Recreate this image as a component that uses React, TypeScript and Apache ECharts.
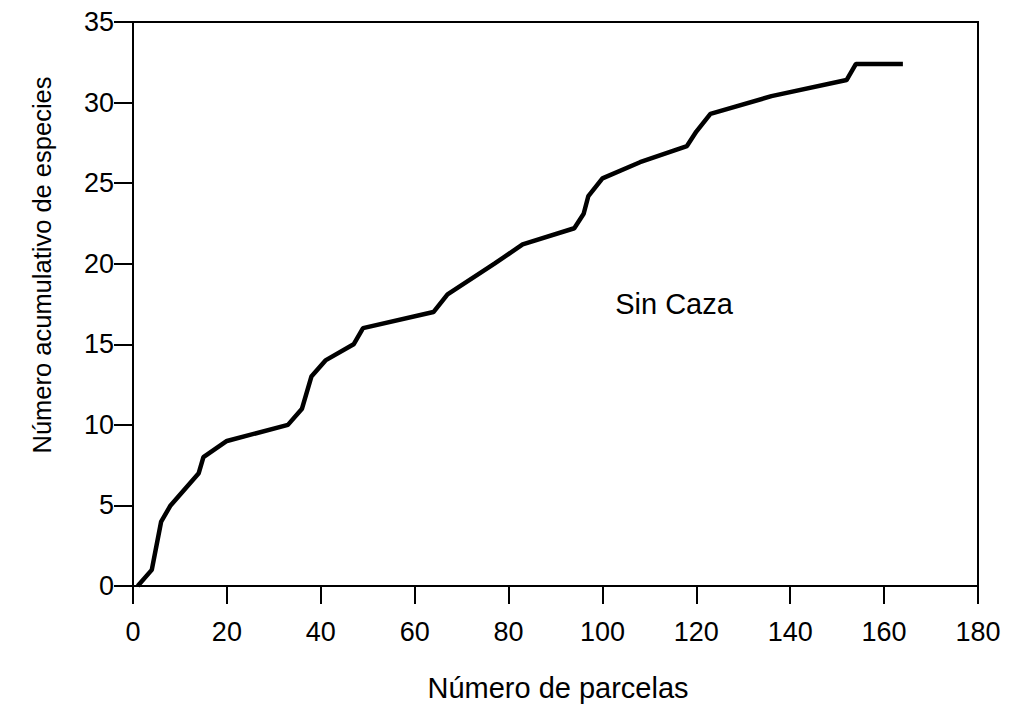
import React, { useEffect, useRef } from "react";
import * as echarts from "echarts";

const parcelas = [1, 4, 6, 8, 14, 15, 20, 33, 36, 38, 41, 47, 49, 64, 67, 77, 83, 94, 96, 97, 100, 108, 118, 120, 123, 136, 152, 154, 164];
const especies = [0, 1, 4, 5, 7, 8, 9, 10, 11, 13, 14, 15, 16, 17, 18.1, 20, 21.2, 22.2, 23.1, 24.2, 25.3, 26.3, 27.3, 28.2, 29.3, 30.4, 31.4, 32.4, 32.4];
const xTitle = "Número de parcelas";
const yTitle = "Número acumulativo de especies";
const annotation = "Sin Caza";

const FONT = "'Liberation Sans', Arial, sans-serif";

export default function App() {
  const ref = useRef<HTMLDivElement>(null);
  useEffect(() => {
    document.body.style.margin = "0";
    const chart = echarts.init(ref.current!, null, { renderer: "svg" });
    const data = parcelas.map((x, i) => [x, especies[i]]);
    chart.setOption({
      animation: false,
      backgroundColor: "#ffffff",
      grid: {
        left: 133,
        right: 33,
        top: 22,
        bottom: 125,
        show: true,
        borderColor: "#000",
        borderWidth: 2,
        backgroundColor: "transparent",
      },
      xAxis: {
        type: "value",
        min: 0,
        max: 180,
        interval: 20,
        axisLine: { show: true, lineStyle: { color: "#000", width: 2 } },
        axisTick: { show: true, inside: false, length: 18, lineStyle: { color: "#000", width: 2 } },
        axisLabel: { color: "#000", fontSize: 27, fontFamily: FONT, margin: 32 },
        splitLine: { show: false },
      },
      yAxis: {
        type: "value",
        min: 0,
        max: 35,
        interval: 5,
        axisLine: { show: true, lineStyle: { color: "#000", width: 2 } },
        axisTick: { show: true, inside: false, length: 19, lineStyle: { color: "#000", width: 2 } },
        axisLabel: { color: "#000", fontSize: 27, fontFamily: FONT, margin: 19 },
        splitLine: { show: false },
      },
      series: [
        {
          type: "line",
          data,
          symbol: "none",
          lineStyle: { color: "#000", width: 4.5 },
        },
      ],
      graphic: [
        {
          type: "text",
          x: 558,
          y: 688,
          style: { text: xTitle, fill: "#000", font: `29px ${FONT}`, align: "center", verticalAlign: "middle" },
        },
        {
          type: "text",
          x: 42,
          y: 265,
          rotation: Math.PI / 2,
          style: { text: yTitle, fill: "#000", font: `25.5px ${FONT}`, align: "center", verticalAlign: "middle" },
        },
        {
          type: "text",
          x: 674,
          y: 304,
          style: { text: annotation, fill: "#000", font: `29px ${FONT}`, align: "center", verticalAlign: "middle" },
        },
      ],
    });
    return () => chart.dispose();
  }, []);
  return <div ref={ref} style={{ width: 1011, height: 711 }} />;
}
